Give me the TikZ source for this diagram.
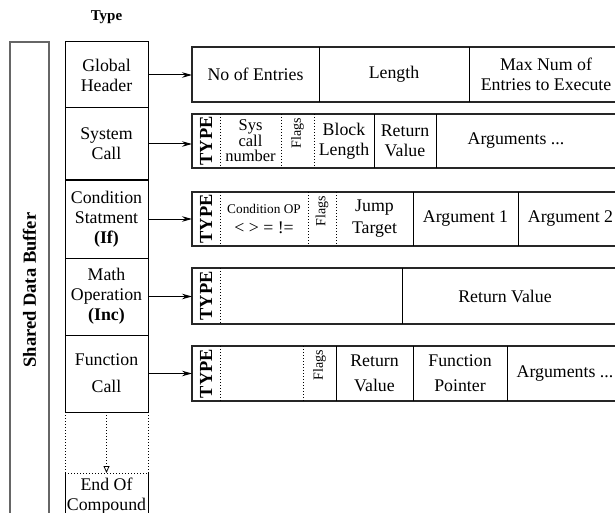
\documentclass[tikz,border=0pt]{standalone}
\usepackage{fontspec}
\setmainfont{Liberation Serif}
\usetikzlibrary{positioning,arrows.meta}

\begin{document}
\begin{tikzpicture}[x=1pt, y=-1pt, line width=1pt,
    font=\fontsize{17.8pt}{20pt}\selectfont,
    typecell/.style={%
        draw, minimum width=83pt, align=center,
        inner sep=1pt, outer sep=0pt},
    recordbox/.style={%
        draw=black!85, line width=1.2pt, minimum width=431pt, minimum height=#1,
        inner sep=0pt, outer sep=0pt, anchor=west},
    field/.style={%
        minimum width=#1, minimum height=50pt, align=center,
        inner sep=1pt, outer sep=0pt},
    typefield/.style={%
        minimum width=28pt, minimum height=50pt, inner sep=0pt, outer sep=0pt,
        font=\fontsize{18.4pt}{20pt}\selectfont\bfseries},
    flagfield/.style={%
        field=#1, text depth=16pt,
        font=\fontsize{14pt}{15pt}\selectfont},
    to field/.style={-{Stealth[length=10pt,width=5.5pt]}},
    dotline/.style={dash pattern=on 1pt off 2pt, line width=0.8pt},
]
    \useasboundingbox (0,0) rectangle (615,513);
    \clip (0,0) rectangle (615,513);

    % Buffer and type column
    \node[draw=black!60, line width=1.4pt, rotate=90, minimum width=496pt, minimum height=39pt,
        font=\fontsize{18.5pt}{20pt}\selectfont\bfseries] (buf) at (29.5,290) {Shared Data Buffer};
    \node[font=\fontsize{15pt}{17pt}\selectfont\bfseries] (typelbl) at (106.5,17) {Type};
    \node[typecell, minimum height=66pt, anchor=north] (gh) at (106.5,42) {Global\\Header};
    \node[typecell, minimum height=72pt, below=0pt of gh] (sc) {System\\Call};
    \node[typecell, minimum height=78pt, below=0pt of sc] (cs) {Condition\\Statment\\\textbf{(If)}};
    \node[typecell, minimum height=77pt, below=0pt of cs] (mo) {Math\\Operation\\\textbf{(Inc)}};
    \node[typecell, minimum height=77pt, below=0pt of mo] (fc) {Function\\[7pt]Call};
    \node[typecell, draw=none, minimum height=46pt, below=61pt of fc] (eoc) {End Of\\Compound};

    % Global header
    \node[recordbox=55pt] (r1) at (192,74.5) {};
    \node[field=127pt, right=0pt of r1.west] (c11) {No of Entries};
    \node[field=150pt, right=0pt of c11] (c12) {Length};
    \node[field=154pt, right=0pt of c12] (c13) {Max Num of\\Entries to Execute};

    % System call
    \node[recordbox=54pt] (r2) at (192,141) {};
    \node[typefield, right=0pt of r2.west] (c21) {\rotatebox{90}{TYPE}};
    \node[field=61pt, font=\fontsize{16.5pt}{15.5pt}\selectfont, right=0pt of c21] (c22) {Sys\\call\\number};
    \node[flagfield=33pt, right=0pt of c22] (c23) {\rotatebox{90}{Flags}};
    \node[field=60pt, right=0pt of c23] (c24) {Block\\Length};
    \node[field=62pt, right=0pt of c24] (c25) {Return\\Value};
    \node[field=160pt, right=0pt of c25] (c26) {Arguments ...};

    % Condition
    \node[recordbox=54pt] (r3) at (192,219) {};
    \node[typefield, right=0pt of r3.west] (c31) {\rotatebox{90}{TYPE}};
    \node[field=88pt, right=0pt of c31] (c32) {{\fontsize{13.3pt}{15pt}\selectfont Condition OP}\\< > = !=};
    \node[flagfield=28pt, right=0pt of c32] (c33) {\rotatebox{90}{Flags}};
    \node[field=77pt, right=0pt of c33] (c34) {Jump\\[2pt]Target};
    \node[field=105pt, right=0pt of c34] (c35) {Argument 1};
    \node[field=105pt, right=0pt of c35] (c36) {Argument 2};

    % Math operation
    \node[recordbox=56pt] (r4) at (192,296) {};
    \node[typefield, right=0pt of r4.west] (c41) {\rotatebox{90}{TYPE}};
    \node[field=182pt, right=0pt of c41] (c42) {};
    \node[field=206pt, right=0pt of c42] (c43) {Return Value};

    % Function call
    \node[recordbox=55pt] (r5) at (192,373.5) {};
    \node[typefield, right=0pt of r5.west] (c51) {\rotatebox{90}{TYPE}};
    \node[field=83pt, right=0pt of c51] (c52) {};
    \node[flagfield=33pt, right=0pt of c52] (c53) {\rotatebox{90}{Flags}};
    \node[field=77pt, right=0pt of c53] (c54) {Return\\[5pt]Value};
    \node[field=94pt, right=0pt of c54] (c55) {Function\\[5pt]Pointer};
    \node[field=116pt, right=0pt of c55] (c56) {Arguments ...};

    % Dividers
    \foreach \c/\r in {c11/r1,c12/r1,c24/r2,c25/r2,c34/r3,c35/r3,c42/r4,c53/r5,c54/r5,c55/r5}
        \draw (\c.east |- \r.north) -- (\c.east |- \r.south);
    \foreach \c/\r in {c21/r2,c22/r2,c23/r2,c31/r3,c32/r3,c33/r3,c41/r4,c51/r5,c52/r5}
        \draw[dotline] (\c.east |- \r.north) -- (\c.east |- \r.south);

    % Arrows
    \foreach \t/\r in {gh/r1,sc/r2,cs/r3,mo/r4,fc/r5}
        \draw[to field] (\t.east) -- (\t.east -| \r.west);

    % End of compound
    \draw[dotline] (fc.south west) -- (eoc.north west);
    \draw[dotline] (fc.south east) -- (eoc.north east);
    \draw[dotline, -{Triangle[open,length=7pt,width=6pt]}] (fc.south) -- (eoc.north);
    \draw[dotline] (eoc.north west) -- (eoc.north east);
    \draw (eoc.north west) -- (eoc.south west) (eoc.north east) -- (eoc.south east);
\end{tikzpicture}
\end{document}
